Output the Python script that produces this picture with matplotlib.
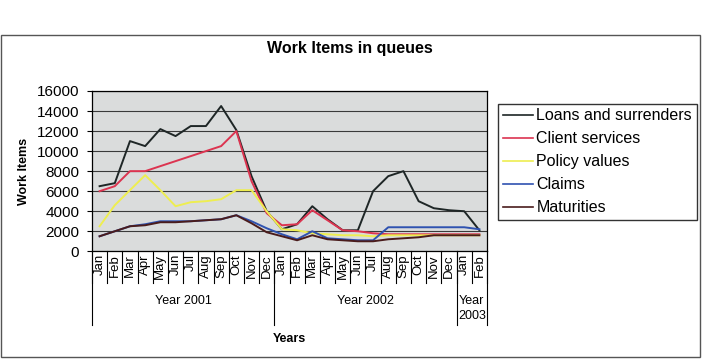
import matplotlib.pyplot as plt
import matplotlib.transforms as mtransforms
from matplotlib.patches import Rectangle
import numpy as np

plt.rcParams['font.family'] = ['Liberation Sans', 'DejaVu Sans']

# ------------------------------------------------------------
# data
# ------------------------------------------------------------
months = ['Jan', 'Feb', 'Mar', 'Apr', 'May', 'Jun',
          'Jul', 'Aug', 'Sep', 'Oct', 'Nov', 'Dec'] * 2 + ['Jan', 'Feb']
year_labels = ['Year 2001', 'Year 2002', 'Year\n2003']
months_per_year = [12, 12, 2]

loans = [6500, 6800, 11000, 10500, 12200, 11500, 12500, 12500, 14500, 12100, 7500, 4000,
         2200, 2700, 4500, 3200, 2100, 2100, 6000, 7500, 8000, 5000, 4300, 4100, 4000, 2100]
client = [6000, 6500, 8000, 8000, 8500, 9000, 9500, 10000, 10500, 12000, 7000, 3800,
          2600, 2700, 4100, 3100, 2100, 2000, 1800, 1700, 1700, 1700, 1700, 1700, 1700, 1700]
policy = [2500, 4600, 6100, 7600, 6100, 4500, 4900, 5000, 5200, 6100, 6100, 4000,
          2200, 2100, 1800, 1700, 1600, 1600, 1500, 1600, 1600, 1600, 1600, 1600, 1600, 1600]
claims = [1500, 2000, 2500, 2700, 3000, 3000, 3000, 3100, 3200, 3600, 3000, 2300,
          1700, 1200, 2000, 1300, 1200, 1100, 1100, 2400, 2400, 2400, 2400, 2400, 2400, 2200]
maturities = [1500, 2000, 2500, 2600, 2900, 2900, 3000, 3100, 3200, 3600, 2800, 1900,
              1500, 1100, 1600, 1200, 1100, 1000, 1000, 1200, 1300, 1400, 1600, 1600, 1600, 1600]

series = [
    ('Loans and surrenders', loans, '#1e2626'),
    ('Client services', client, '#dc3450'),
    ('Policy values', policy, '#eeee50'),
    ('Claims', claims, '#2f52b0'),
    ('Maturities', maturities, '#4a1c1c'),
]

# ------------------------------------------------------------
# figure
# ------------------------------------------------------------
fig = plt.figure(figsize=(7.02, 3.60), dpi=100)
fig.patch.set_facecolor('white')

# outer chart frame
fig.patches.append(Rectangle((1 / 702, 3 / 360), 699 / 702, 322 / 360,
                             transform=fig.transFigure, fill=False,
                             edgecolor='#555555', lw=1.0))

ax = fig.add_axes([92 / 702, 1 - 251.3 / 360, 395 / 702, 160.3 / 360])
ax.set_facecolor('#dadcdc')

x = np.arange(len(months)) + 0.5
for name, vals, col in series:
    ax.plot(x, vals, color=col, lw=1.4, label=name)

ax.set_xlim(0, len(months))
ax.set_ylim(0, 16000)
ax.set_yticks(np.arange(0, 16001, 2000))
ax.yaxis.grid(True, color='#3a3a3a', lw=0.8)
ax.set_axisbelow(True)
ax.tick_params(axis='y', direction='out', length=3.6, width=0.8,
               labelsize=11, pad=5.5)
for s in ax.spines.values():
    s.set_color('black')
    s.set_linewidth(0.9)

# month labels
ax.set_xticks(x)
ax.set_xticklabels(months, rotation=90, fontsize=9.5, va='top')
ax.tick_params(axis='x', length=0, pad=2)

# category separators and year groups
trans = mtransforms.blended_transform_factory(ax.transData, ax.transAxes)
edges = np.concatenate([[0], np.cumsum(months_per_year)])
for i in range(len(months) + 1):
    ax.plot([i, i], [0, -0.198], transform=trans, color='black',
            lw=0.8, clip_on=False)
for e in edges:
    ax.plot([e, e], [0, -0.46], transform=trans, color='black',
            lw=0.8, clip_on=False)
for k, lab in enumerate(year_labels):
    xc = (edges[k] + edges[k + 1]) / 2
    ax.text(xc, -0.272, lab, transform=trans, ha='center', va='top',
            fontsize=9, linespacing=1.3)

ax.set_ylabel('Work Items', fontsize=9, fontweight='bold')
ax.yaxis.set_label_coords(-0.157, 0.5)
fig.text(289.5 / 702, 1 - 339 / 360, 'Years', ha='center', va='center',
         fontsize=9, fontweight='bold')
fig.text(350 / 702, 1 - 49 / 360, 'Work Items in queues', ha='center',
         va='center', fontsize=11.5, fontweight='bold')

leg = fig.legend(loc='upper left', bbox_to_anchor=(498 / 702, 1 - 103.5 / 360),
                 fontsize=11.5, frameon=True, fancybox=False, edgecolor='black',
                 handlelength=1.9, handletextpad=0.2, labelspacing=0.5,
                 borderpad=0.3, borderaxespad=0)
leg.get_frame().set_linewidth(1.0)
for h in leg.legend_handles:
    h.set_linewidth(1.2)

plt.savefig('out.png', dpi=100)
